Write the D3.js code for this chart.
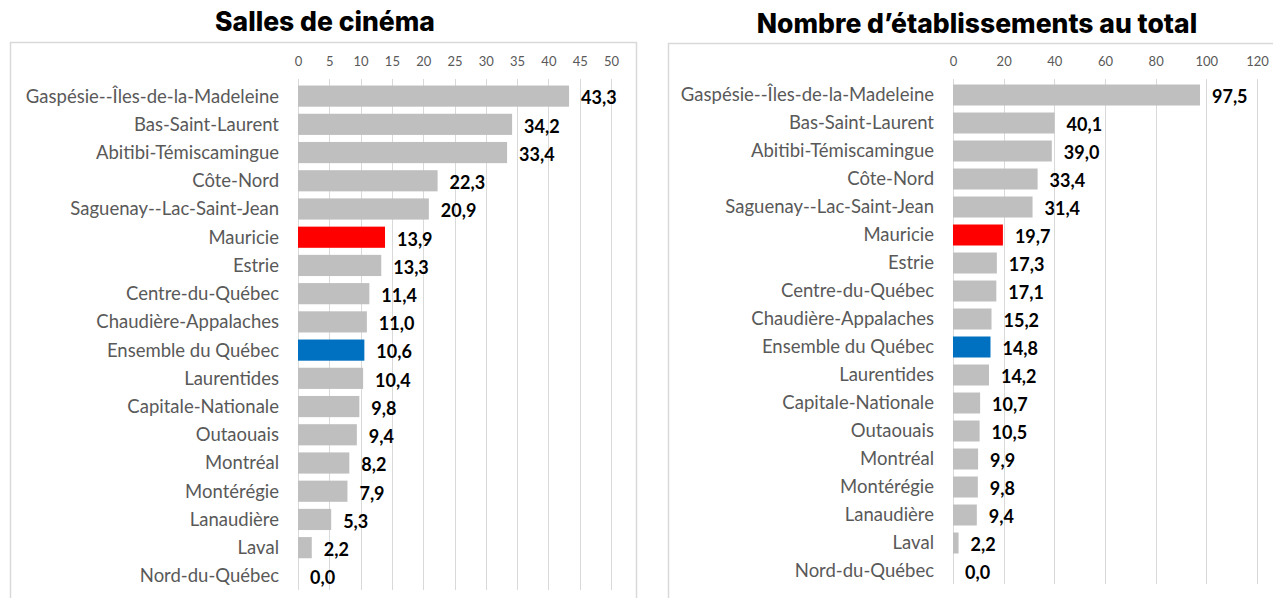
<!DOCTYPE html>
<html>
<head>
<meta charset="utf-8">
<script src="https://cdn.jsdelivr.net/npm/d3@7"></script>
<style>
  body { margin: 0; background: #fff; }
  svg { display: block; }
</style>
</head>
<body>
<div id="viz"></div>
<script>
// regions, same order in both charts
var regions = ["Gaspésie--Îles-de-la-Madeleine", "Bas-Saint-Laurent", "Abitibi-Témiscamingue",
  "Côte-Nord", "Saguenay--Lac-Saint-Jean", "Mauricie", "Estrie", "Centre-du-Québec",
  "Chaudière-Appalaches", "Ensemble du Québec", "Laurentides", "Capitale-Nationale",
  "Outaouais", "Montréal", "Montérégie", "Lanaudière", "Laval", "Nord-du-Québec"];

var sallesValues = [43.3, 34.2, 33.4, 22.3, 20.9, 13.9, 13.3, 11.4, 11.0, 10.6, 10.4, 9.8, 9.4, 8.2, 7.9, 5.3, 2.2, 0.0];
var totalValues = [97.5, 40.1, 39.0, 33.4, 31.4, 19.7, 17.3, 17.1, 15.2, 14.8, 14.2, 10.7, 10.5, 9.9, 9.8, 9.4, 2.2, 0.0];

var sallesTicks = [0, 5, 10, 15, 20, 25, 30, 35, 40, 45, 50];
var totalTicks = [0, 20, 40, 60, 80, 100, 120];

var highlight = {"Mauricie": "#ff0000", "Ensemble du Québec": "#0070c0"};

var W = 1273, H = 598;
var svg = d3.select("#viz").append("svg")
  .attr("width", W)
  .attr("height", H);

var fmt = function(v) { return d3.format(".1f")(v).replace(".", ","); };

function drawPanel(opts) {
  var g = svg.append("g");

  // frame
  g.append("rect")
    .attr("x", opts.box[0] + 0.5).attr("y", opts.box[1] + 0.5)
    .attr("width", opts.box[2]).attr("height", opts.box[3])
    .attr("fill", "none")
    .attr("stroke", "#d9d9d9")
    .attr("stroke-width", 1.5);

  // title
  g.append("text")
    .attr("x", opts.titleX).attr("y", opts.titleY)
    .attr("text-anchor", "middle")
    .style("font-family", "Inter, 'Noto Sans', sans-serif")
    .style("font-weight", 800)
    .style("font-size", "26.5px")
    .attr("fill", "#000")
    .text(opts.title);

  var x = d3.scaleLinear()
    .domain([0, d3.max(opts.ticks)])
    .range(opts.xRange);

  var y = d3.scaleBand()
    .domain(regions)
    .range(opts.yRange)
    .paddingInner(0.25)
    .paddingOuter(0.125);

  // gridlines
  g.selectAll(".grid")
    .data(opts.ticks)
    .enter()
    .append("line")
      .attr("x1", function(d) { return Math.round(x(d)) + 0.5; })
      .attr("x2", function(d) { return Math.round(x(d)) + 0.5; })
      .attr("y1", opts.gridY[0])
      .attr("y2", opts.gridY[1])
      .attr("stroke", "#d9d9d9")
      .attr("stroke-width", 1);

  // top axis labels
  var ax = g.append("g")
    .attr("transform", "translate(0," + opts.tickY + ")")
    .call(d3.axisTop(x).tickValues(opts.ticks).tickSize(0).tickPadding(0));
  ax.select(".domain").remove();
  ax.selectAll("text")
    .style("font-family", "Lato, 'Open Sans', sans-serif")
    .style("font-size", "13px")
    .attr("fill", "#595959");

  // bars
  var data = regions.map(function(r, i) { return {region: r, value: opts.values[i]}; });
  g.selectAll(".bar")
    .data(data)
    .enter()
    .append("rect")
      .attr("x", x(0))
      .attr("y", function(d) { return y(d.region); })
      .attr("width", function(d) { return x(d.value) - x(0); })
      .attr("height", y.bandwidth())
      .attr("fill", function(d) { return highlight[d.region] || "#bfbfbf"; });

  // category labels
  g.selectAll(".cat")
    .data(data)
    .enter()
    .append("text")
      .attr("x", x(0) - 19)
      .attr("y", function(d) { return y(d.region) + y.bandwidth() / 2; })
      .attr("dy", "0.35em")
      .attr("text-anchor", "end")
      .style("font-family", "Lato, 'Open Sans', sans-serif")
      .style("font-size", "18.5px")
      .attr("fill", "#595959")
      .text(function(d) { return d.region; });

  // value labels
  g.selectAll(".val")
    .data(data)
    .enter()
    .append("text")
      .attr("x", function(d) { return x(d.value) + 12; })
      .attr("y", function(d) { return y(d.region) + y.bandwidth() / 2 + 2; })
      .attr("dy", "0.35em")
      .style("font-family", "Lato, 'Open Sans', sans-serif")
      .style("font-weight", 700)
      .style("font-size", "18px")
      .attr("fill", "#000")
      .text(function(d) { return fmt(d.value); });
}

drawPanel({
  title: "Salles de cinéma", titleX: 325, titleY: 31,
  box: [10, 42, 626, 580],
  values: sallesValues, ticks: sallesTicks,
  xRange: [298, 611], yRange: [82, 590], gridY: [79, 590], tickY: 66
});

drawPanel({
  title: "Nombre d’établissements au total", titleX: 977, titleY: 33,
  box: [668, 43, 640, 580],
  values: totalValues, ticks: totalTicks,
  xRange: [953, 1257], yRange: [81, 585], gridY: [79, 584], tickY: 66
});
</script>
</body>
</html>
